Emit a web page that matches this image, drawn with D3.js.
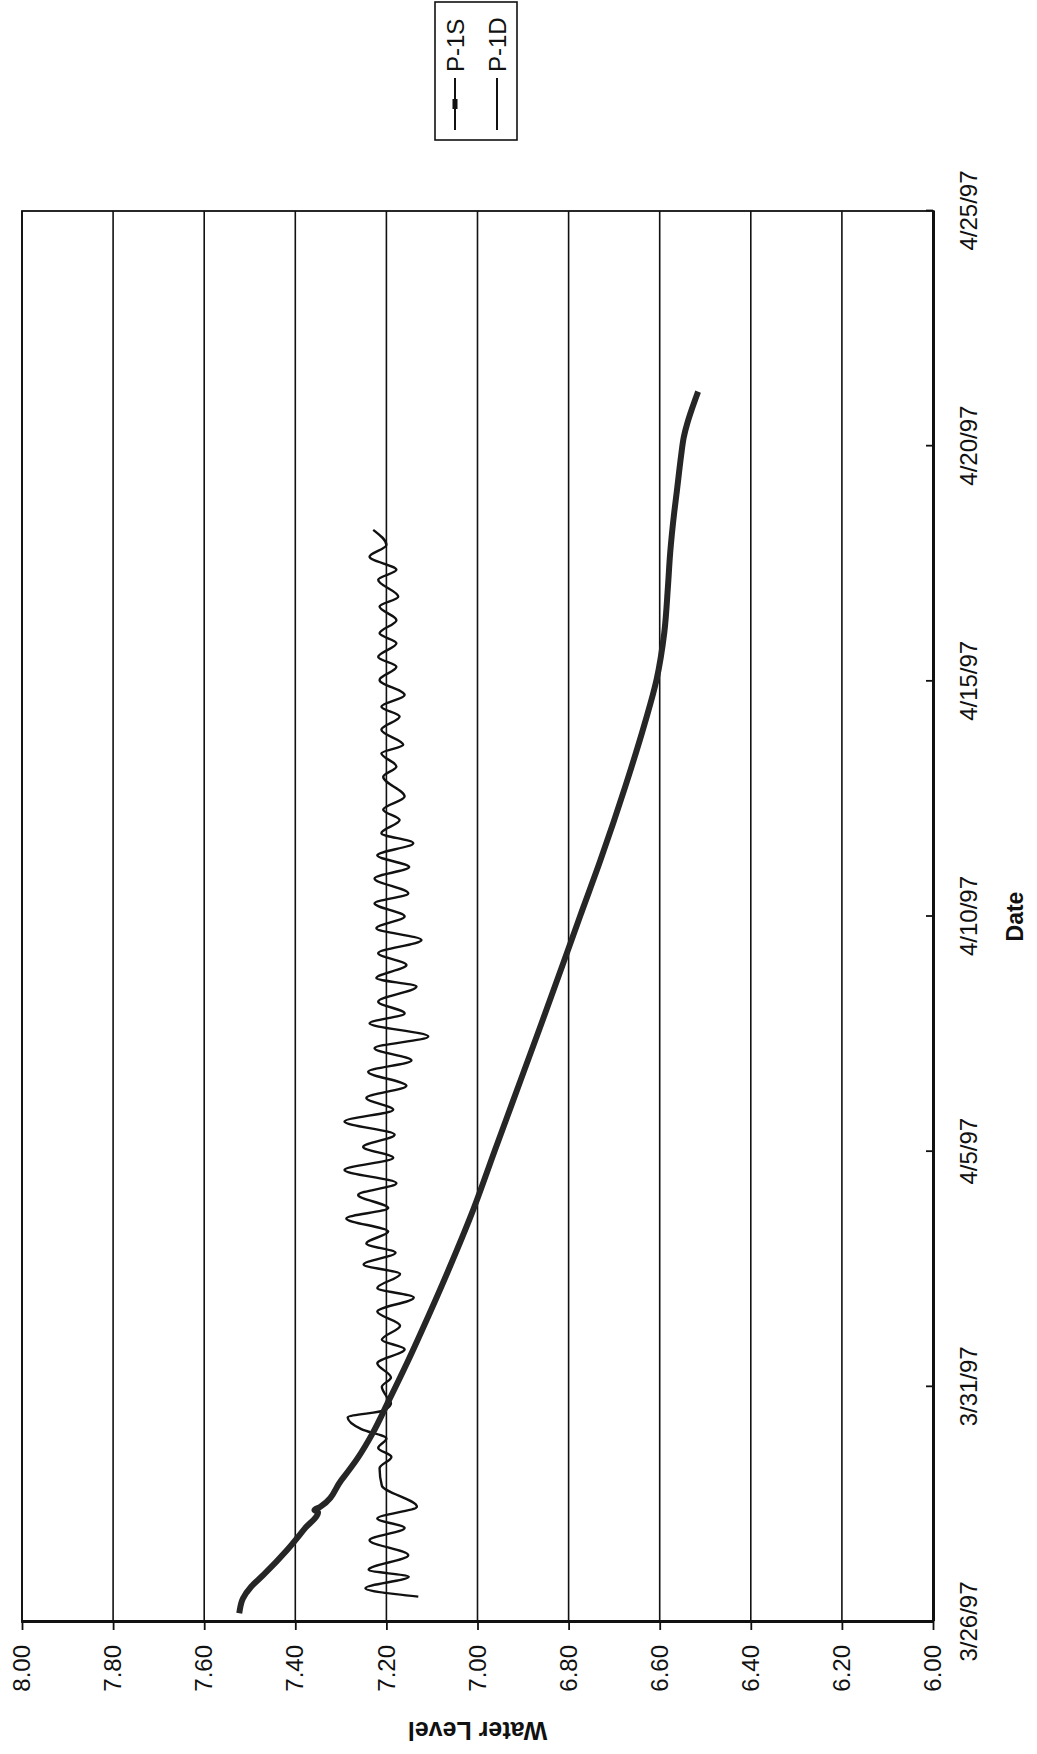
<!DOCTYPE html>
<html>
<head>
<meta charset="utf-8">
<script src="https://cdn.jsdelivr.net/npm/d3@7"></script>
<style>
  html, body { margin: 0; padding: 0; background: #fff; }
  svg { display: block; }
  text { font-family: "Liberation Sans", Arial, sans-serif; fill: #111; }
</style>
</head>
<body>
<svg id="chart" width="1037" height="1754"></svg>
<script>
// ---------------- data ----------------
const startDateUTC = Date.UTC(1997, 2, 26);          // 3/26/97
const xTickDays   = [0, 5, 10, 15, 20, 25, 30];
const xTickLabels = ["3/26/97", "3/31/97", "4/5/97", "4/10/97", "4/15/97", "4/20/97", "4/25/97"];
const yTicks      = [8.00, 7.80, 7.60, 7.40, 7.20, 7.00, 6.80, 6.60, 6.40, 6.20, 6.00];
const seriesNames = ["P-1S", "P-1D"];

// P-1S (days since 3/26/97 00:00, water level)
const p1sDays  = [0.25, 0.5, 0.75, 1.0, 1.53, 2.0, 2.33, 2.38, 2.45, 3.0, 3.5, 4.0, 4.7, 5.5, 6.5, 7.5, 8.8, 10.0, 11.0, 12.66, 14.0, 15.0, 16.2, 17.75, 19.1, 20.03, 21.03, 22.0, 22.73, 23.6, 24.07, 24.8, 25.2, 25.5, 25.8, 26.1];
const p1sLevel = [7.522, 7.515, 7.497, 7.47, 7.418, 7.378, 7.35, 7.358, 7.345, 7.30, 7.262, 7.231, 7.195, 7.155, 7.108, 7.063, 7.008, 6.963, 6.925, 6.862, 6.812, 6.775, 6.73, 6.676, 6.633, 6.607, 6.59, 6.582, 6.577, 6.568, 6.562, 6.553, 6.547, 6.539, 6.529, 6.518];

// P-1D (days since 3/26/97 00:00, water level)
const p1dDays  = [0.54, 0.72, 0.96, 1.11, 1.42, 1.74, 2.0, 2.2, 2.45, 2.9, 3.27, 3.51, 3.7, 3.9, 4.1, 4.35, 4.5, 4.65, 4.8, 5.0, 5.2, 5.5, 5.8, 6.0, 6.3, 6.6, 6.9, 7.1, 7.4, 7.6, 7.85,
                  8.05, 8.3, 8.58, 8.8, 9.08, 9.33, 9.61, 9.87, 10.1, 10.36, 10.64, 10.89, 11.14, 11.40, 11.7, 11.94, 12.2, 12.45, 12.73, 12.94, 13.19, 13.51, 13.69, 13.97, 14.22, 14.50, 14.75, 15.0, 15.28, 15.49, 15.81,
                  16.05, 16.3, 16.56, 16.77, 17.05, 17.27, 17.55, 17.97, 18.19, 18.47, 18.65, 18.97, 19.25, 19.46, 19.71, 20.03, 20.31, 20.52, 20.81, 21.02, 21.3, 21.59, 21.8, 22.16, 22.37, 22.65, 22.9, 23.22];
const p1dLevel = [7.13, 7.246, 7.151, 7.239, 7.152, 7.237, 7.16, 7.22, 7.133, 7.21, 7.215, 7.189, 7.218, 7.20, 7.255, 7.285, 7.205, 7.19, 7.20, 7.21, 7.19, 7.22, 7.16, 7.21, 7.17, 7.22, 7.14, 7.22, 7.17, 7.25, 7.18,
                  7.244, 7.196, 7.288, 7.196, 7.262, 7.178, 7.292, 7.185, 7.251, 7.182, 7.292, 7.185, 7.244, 7.156, 7.24, 7.145, 7.226, 7.108, 7.237, 7.160, 7.218, 7.134, 7.222, 7.156, 7.218, 7.123, 7.222, 7.16, 7.226, 7.152, 7.226,
                  7.15, 7.22, 7.141, 7.211, 7.171, 7.207, 7.16, 7.207, 7.178, 7.211, 7.163, 7.211, 7.171, 7.211, 7.160, 7.215, 7.178, 7.218, 7.178, 7.215, 7.178, 7.215, 7.174, 7.218, 7.178, 7.237, 7.20, 7.229];

// ---------------- layout (chart drawn landscape, page rotated) ----------------
const PAGE_W = 1037, PAGE_H = 1754;
const plot = { left: 132, right: 1543, top: 22, bottom: 933 };
const toDate = d => new Date(startDateUTC + d * 864e5);

const svg = d3.select("#chart");
const g = svg.append("g").attr("transform", `translate(0,${PAGE_H}) rotate(-90)`);

const x = d3.scaleUtc()
  .domain([toDate(xTickDays[0]), toDate(xTickDays[xTickDays.length - 1])])
  .range([plot.left, plot.right]);
const y = d3.scaleLinear().domain([6, 8]).range([plot.bottom, plot.top]);

// gridlines
g.append("g").selectAll("line").data(yTicks).join("line")
  .attr("x1", plot.left).attr("x2", plot.right)
  .attr("y1", d => y(d)).attr("y2", d => y(d))
  .attr("stroke", "#111").attr("stroke-width", 1.6);

// plot border
g.append("rect")
  .attr("x", plot.left).attr("y", plot.top)
  .attr("width", plot.right - plot.left).attr("height", plot.bottom - plot.top)
  .attr("fill", "none").attr("stroke", "#111").attr("stroke-width", 1.8);

// y axis
const yAxis = g.append("g").attr("transform", `translate(${plot.left},0)`)
  .call(d3.axisLeft(y).tickValues(yTicks).tickFormat(d3.format(".2f")).tickSize(8).tickSizeOuter(0).tickPadding(15));
yAxis.select(".domain").attr("stroke", "#111").attr("stroke-width", 3);
yAxis.selectAll(".tick line").attr("stroke", "#111").attr("stroke-width", 1.8);
yAxis.selectAll("text").attr("font-size", 24).attr("fill", "#111").attr("font-family", "Liberation Sans, Arial, sans-serif");

// x axis
const xAxis = g.append("g").attr("transform", `translate(0,${plot.bottom})`)
  .call(d3.axisBottom(x).tickValues(xTickDays.map(toDate))
    .tickFormat((d, i) => xTickLabels[i]).tickSize(-7).tickSizeOuter(0).tickPadding(27));
xAxis.select(".domain").attr("stroke", "#111").attr("stroke-width", 3);
xAxis.selectAll(".tick line").attr("stroke", "#111").attr("stroke-width", 1.8);
xAxis.selectAll("text").attr("font-size", 24).attr("fill", "#111").attr("font-family", "Liberation Sans, Arial, sans-serif");

// axis titles
g.append("text")
  .attr("x", (plot.left + plot.right) / 2).attr("y", 1023)
  .attr("text-anchor", "middle").attr("font-size", 23).attr("font-weight", "bold")
  .text("Date");
g.append("text")
  .attr("transform", `translate(32,${(plot.top + plot.bottom) / 2}) rotate(-90)`)
  .attr("text-anchor", "middle").attr("font-size", 25).attr("font-weight", "bold")
  .text("Water Level");

// series
const p1s = p1sDays.map((d, i) => ({ t: toDate(d), v: p1sLevel[i] }));
const p1d = p1dDays.map((d, i) => ({ t: toDate(d), v: p1dLevel[i] }));

const lineD = d3.line().x(d => x(d.t)).y(d => y(d.v)).curve(d3.curveMonotoneX);
const lineS = d3.line().x(d => x(d.t)).y(d => y(d.v)).curve(d3.curveMonotoneX);

g.append("path").datum(p1d)
  .attr("d", lineD).attr("fill", "none")
  .attr("stroke", "#111").attr("stroke-width", 2.4).attr("stroke-linejoin", "round");

g.append("path").datum(p1s)
  .attr("d", lineS).attr("fill", "none")
  .attr("stroke", "#262626").attr("stroke-width", 6).attr("stroke-linejoin", "round").attr("stroke-linecap", "square");

// legend
const legend = g.append("g");
legend.append("rect")
  .attr("x", 1614).attr("y", 435).attr("width", 138).attr("height", 82)
  .attr("fill", "#fff").attr("stroke", "#111").attr("stroke-width", 1.6);
const legY = [455, 497];
seriesNames.forEach((name, i) => {
  legend.append("line")
    .attr("x1", 1624).attr("x2", 1676).attr("y1", legY[i]).attr("y2", legY[i])
    .attr("stroke", "#111").attr("stroke-width", 2);
  if (i === 0) {
    legend.append("rect").attr("x", 1645).attr("y", legY[i] - 2.5).attr("width", 10).attr("height", 5).attr("fill", "#111");
  }
  legend.append("text")
    .attr("x", 1682).attr("y", legY[i]).attr("dominant-baseline", "central")
    .attr("font-size", 24).text(name);
});
</script>
</body>
</html>
